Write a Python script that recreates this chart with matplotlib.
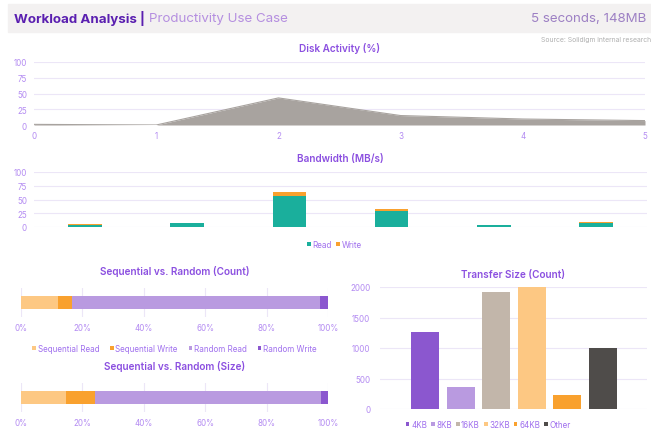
import matplotlib
matplotlib.use("Agg")
import matplotlib.pyplot as plt
from matplotlib.patches import Rectangle
import numpy as np

plt.rcParams['font.family'] = ['Inter', 'DejaVu Sans']

# ---------------- data ----------------
disk_x = [0, 1, 2, 3, 4, 5]
disk_pct = [1, 0, 43, 15, 9.5, 7]

bw_read = [4, 6.5, 57, 29, 3.5, 6.5]
bw_write = [1, 1.5, 6, 4, 0.5, 2]

seq_labels = ["Sequential Read", "Sequential Write", "Random Read", "Random Write"]
seq_count = [12.2, 4.4, 80.7, 2.7]
seq_size = [14.5, 9.6, 73.5, 2.4]

ts_labels = ["4KB", "8KB", "16KB", "32KB", "64KB", "Other"]
ts_values = [1255, 356, 1923, 2000, 230, 1008]

# ---------------- style ----------------
W, H = 651, 431
PURPLE_T = "#8b4fe0"
TICK = "#b48cf2"
LEGTXT = "#a070ee"
GRID = "#ece6f7"
TEAL = "#1aaf9c"
ORANGE = "#f9a12e"
LORANGE = "#fdc883"
LPURPLE = "#b99ae0"
DPURPLE = "#8b57cf"
BEIGE = "#c2b6aa"
DARK = "#4f4c4a"
GREY = "#a8a39f"
TFS = 5.8
LFS = 5.8
TTL = 7.2

fig = plt.figure(figsize=(W / 100, H / 100), dpi=100)


def ax_px(x0, y0, x1, y1):
    return fig.add_axes([x0 / W, 1 - y1 / H, (x1 - x0) / W, (y1 - y0) / H])


def style(ax):
    for s in ax.spines.values():
        s.set_visible(False)
    ax.tick_params(length=0, colors=TICK, labelsize=TFS)
    ax.set_axisbelow(True)


LEGKW = dict(frameon=False, fontsize=LFS, handlelength=0.45, handleheight=0.45,
             handletextpad=0.2, labelcolor=LEGTXT)

# header band
fig.patches.append(Rectangle((8 / W, 1 - 33 / H), (W - 8) / W, 28 / H,
                             transform=fig.transFigure, color="#f3f1f1", zorder=0))
t1 = fig.text(14 / W, 1 - 19 / H, "Workload Analysis |", fontsize=9.6, fontweight="bold",
              color="#5a1fb0", va="center", ha="left")
fig.canvas.draw()
bb = t1.get_window_extent(renderer=fig.canvas.get_renderer())
fig.text((bb.x1 + 4) / W, 1 - 19 / H, "Productivity Use Case", fontsize=9.6,
         color="#b58fe0", va="center", ha="left")
fig.text(646 / W, 1 - 19 / H, "5 seconds, 148MB", fontsize=9.6,
         color="#9d80c4", va="center", ha="right")
fig.text(541 / W, 1 - 40 / H, "Source: Solidigm internal research", fontsize=4.9,
         color="#b0b0b0", va="center", ha="left")

# ---------------- Disk activity ----------------
ax = ax_px(34, 63, 645, 126)
style(ax)
ax.fill_between(disk_x, disk_pct, 0, color=GREY, lw=0)
ax.plot(disk_x, disk_pct, color=GREY, lw=0.8)
ax.set_xlim(0, 5)
ax.set_ylim(0, 100)
ax.set_yticks([0, 25, 50, 75, 100])
ax.set_xticks(disk_x)
ax.yaxis.grid(True, color=GRID, lw=0.8)
ax.tick_params(axis="x", pad=4)
ax.tick_params(axis="y", pad=5)
ax.set_title("Disk Activity (%)", fontsize=TTL, color=PURPLE_T, fontweight="semibold", pad=8)

# ---------------- Bandwidth ----------------
ax = ax_px(34, 173, 647, 228)
style(ax)
xb = np.arange(len(bw_read))
ax.bar(xb, bw_read, width=0.33, color=TEAL, label="Read")
ax.bar(xb, bw_write, width=0.33, bottom=bw_read, color=ORANGE, label="Write")
ax.set_xlim(-0.5, 5.5)
ax.set_ylim(0, 100)
ax.set_yticks([0, 25, 50, 75, 100])
ax.set_xticks([])
ax.yaxis.grid(True, color=GRID, lw=0.8)
ax.tick_params(axis="y", pad=5)
ax.set_title("Bandwidth (MB/s)", fontsize=TTL, color=PURPLE_T, fontweight="semibold", pad=8)
ax.legend(loc="upper center", bbox_to_anchor=(0.49, -0.1), ncol=2,
          columnspacing=0.6, **LEGKW)

# ---------------- Sequential vs Random ----------------
seq_colors = [LORANGE, ORANGE, LPURPLE, DPURPLE]


def hbar(ax, vals, title, legend=False):
    style(ax)
    left = 0
    for v, c, l in zip(vals, seq_colors, seq_labels):
        ax.barh(0, v, left=left, height=0.42, color=c, label=l)
        left += v
    ax.set_xlim(0, 100)
    ax.set_ylim(-0.5, 0.5)
    ax.set_yticks([])
    ax.set_xticks([0, 20, 40, 60, 80, 100])
    ax.set_xticklabels(["0%", "20%", "40%", "60%", "80%", "100%"])
    ax.xaxis.grid(True, color=GRID, lw=0.8)
    ax.tick_params(axis="x", pad=4)
    ax.set_title(title, fontsize=TTL, color=PURPLE_T, fontweight="semibold", pad=10)
    if legend:
        ax.legend(loc="upper center", bbox_to_anchor=(0.5, -0.68), ncol=4,
                  columnspacing=1.35, **LEGKW)


ax = ax_px(21, 289, 328, 318)
hbar(ax, seq_count, "Sequential vs. Random (Count)", legend=True)
ax = ax_px(21, 384, 328, 413)
hbar(ax, seq_size, "Sequential vs. Random (Size)")

# ---------------- Transfer size ----------------
ax = ax_px(380, 288, 647, 410)
style(ax)
ts_colors = [DPURPLE, LPURPLE, BEIGE, LORANGE, ORANGE, DARK]
xt = np.arange(len(ts_values))
for i in range(len(ts_values)):
    ax.bar(xt[i], ts_values[i], width=0.79, color=ts_colors[i], label=ts_labels[i],
           clip_on=False)
ax.set_xlim(-1.27, 6.25)
ax.set_ylim(0, 2000)
ax.set_yticks([0, 500, 1000, 1500, 2000])
ax.set_xticks([])
ax.yaxis.grid(True, color=GRID, lw=0.8)
ax.tick_params(axis="y", pad=7)
ax.set_title("Transfer Size (Count)", fontsize=TTL, color=PURPLE_T, fontweight="semibold", pad=7)
ax.legend(loc="upper center", bbox_to_anchor=(0.405, -0.03), ncol=6,
          columnspacing=0.5, **LEGKW)

fig.savefig("out.png", dpi=100)
